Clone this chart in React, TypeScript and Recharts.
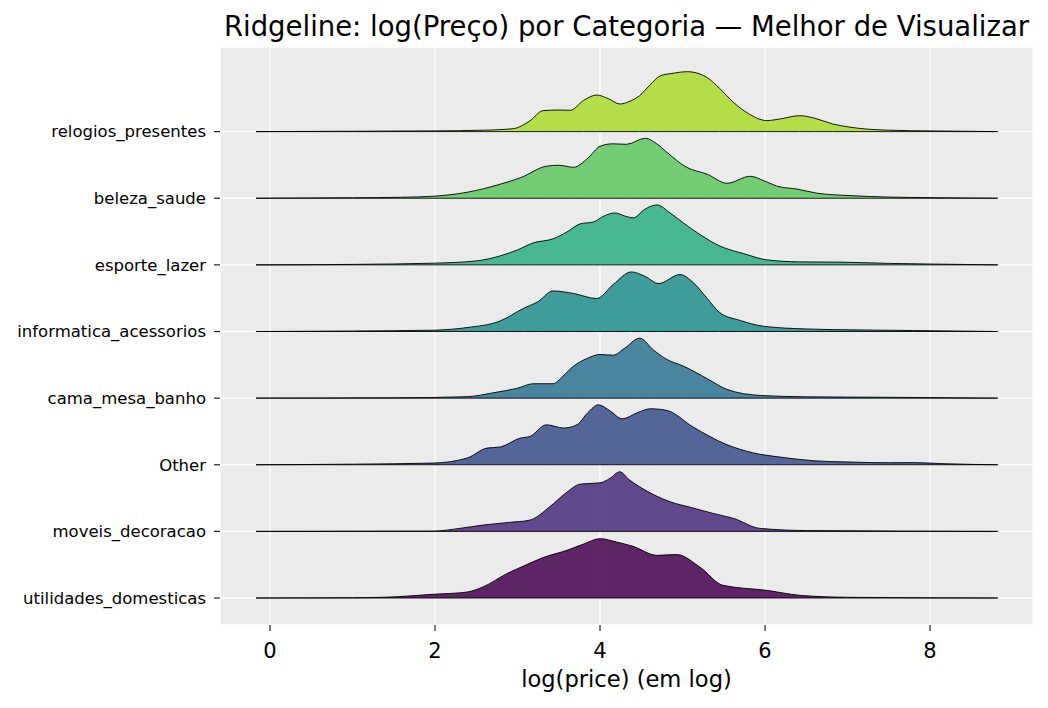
import React from 'react';
import { ComposedChart, Area, XAxis, YAxis, CartesianGrid } from 'recharts';

// Categories from bottom (0) to top (7)
const categories = [
  'utilidades_domesticas',
  'moveis_decoracao',
  'Other',
  'cama_mesa_banho',
  'informatica_acessorios',
  'esporte_lazer',
  'beleza_saude',
  'relogios_presentes',
];

const colors = ['#52115c', '#523a83', '#46598f', '#3c7b97', '#2f9594', '#37b488', '#68ca6a', '#afdc3a'];

const xTicks = [0, 2, 4, 6, 8];
const yTicks = [0, 1, 2, 3, 4, 5, 6, 7];

// [log(price), density]
const utilidades: [number, number][] = [
  [-0.17, 0], [1.0, 0.0025], [1.37, 0.006], [1.98, 0.031], [2.39, 0.05], [2.58, 0.092], [2.87, 0.203],
  [3.1, 0.275], [3.31, 0.337], [3.6, 0.398], [3.8, 0.45], [4.0, 0.495], [4.2, 0.467], [4.4, 0.431],
  [4.69, 0.356], [4.93, 0.362], [5.21, 0.258], [5.49, 0.106], [6.02, 0.064], [6.42, 0.0225], [7.0, 0.006], [8.82, 0],
];

const moveis: [number, number][] = [
  [-0.17, 0], [1.98, 0.0025], [2.3, 0.025], [2.58, 0.0525], [2.9, 0.075], [3.15, 0.094], [3.39, 0.205],
  [3.58, 0.317], [3.76, 0.394], [4.0, 0.405], [4.12, 0.442], [4.24, 0.497], [4.35, 0.433], [4.48, 0.372],
  [4.85, 0.247], [5.1, 0.2], [5.37, 0.15], [5.62, 0.108], [5.94, 0.025], [6.5, 0.007], [8.82, 0],
];

const other: [number, number][] = [
  [-0.17, 0], [1.0, 0.005], [1.98, 0.014], [2.39, 0.056], [2.63, 0.139], [2.79, 0.148], [3.03, 0.222],
  [3.15, 0.236], [3.35, 0.333], [3.56, 0.306], [3.72, 0.333], [3.85, 0.433], [3.98, 0.5], [4.12, 0.45],
  [4.27, 0.383], [4.45, 0.433], [4.61, 0.467], [4.81, 0.453], [5.13, 0.314], [5.54, 0.167], [5.85, 0.1],
  [6.18, 0.064], [6.6, 0.033], [7.03, 0.0225], [7.5, 0.017], [7.8, 0.018], [8.2, 0.008], [8.82, 0],
];

const cama: [number, number][] = [
  [-0.17, 0], [1.5, 0.0025], [2.39, 0.012], [2.71, 0.045], [3.0, 0.083], [3.19, 0.12], [3.43, 0.12],
  [3.55, 0.183], [3.68, 0.267], [3.85, 0.333], [4.0, 0.364], [4.16, 0.358], [4.3, 0.417], [4.48, 0.5],
  [4.65, 0.4], [4.81, 0.323], [5.01, 0.267], [5.3, 0.162], [5.54, 0.0725], [5.94, 0.0225], [6.5, 0.011],
  [7.5, 0.007], [8.82, 0],
];

const informatica: [number, number][] = [
  [-0.17, 0], [1.0, 0.004], [1.98, 0.011], [2.39, 0.033], [2.79, 0.088], [3.07, 0.192], [3.25, 0.25],
  [3.43, 0.338], [3.68, 0.317], [3.96, 0.275], [4.16, 0.392], [4.38, 0.497], [4.55, 0.458], [4.71, 0.4],
  [4.97, 0.475], [5.13, 0.408], [5.3, 0.275], [5.45, 0.158], [5.7, 0.092], [5.98, 0.044], [6.5, 0.021],
  [7.03, 0.014], [7.8, 0.008], [8.82, 0],
];

const esporte: [number, number][] = [
  [-0.17, 0], [1.0, 0.004], [1.98, 0.014], [2.5, 0.033], [2.79, 0.075], [3.0, 0.125], [3.19, 0.183],
  [3.43, 0.217], [3.6, 0.275], [3.76, 0.342], [3.92, 0.358], [4.05, 0.408], [4.18, 0.433], [4.3, 0.408],
  [4.4, 0.392], [4.55, 0.467], [4.69, 0.5], [4.85, 0.433], [5.01, 0.35], [5.2, 0.258], [5.45, 0.158],
  [5.75, 0.092], [6.02, 0.042], [6.42, 0.025], [6.9, 0.023], [7.5, 0.0125], [8.0, 0.007], [8.82, 0],
];

const beleza: [number, number][] = [
  [-0.17, 0], [0.5, 0.0025], [1.0, 0.004], [1.58, 0.008], [1.98, 0.017], [2.39, 0.05], [2.79, 0.117],
  [3.05, 0.175], [3.35, 0.267], [3.5, 0.275], [3.68, 0.258], [3.85, 0.333], [4.0, 0.433], [4.15, 0.454],
  [4.32, 0.45], [4.55, 0.5], [4.68, 0.458], [4.81, 0.383], [5.05, 0.258], [5.3, 0.2], [5.54, 0.125],
  [5.82, 0.183], [6.0, 0.142], [6.15, 0.1], [6.4, 0.075], [6.63, 0.042], [7.03, 0.022], [7.5, 0.01],
  [8.0, 0.005], [8.82, 0],
];

const relogios: [number, number][] = [
  [-0.17, 0], [1.0, 0.003], [2.0, 0.006], [2.6, 0.012], [2.95, 0.025], [3.15, 0.09], [3.31, 0.175],
  [3.5, 0.18], [3.64, 0.178], [3.8, 0.26], [3.96, 0.305], [4.1, 0.275], [4.24, 0.23], [4.35, 0.25],
  [4.48, 0.3], [4.6, 0.385], [4.73, 0.465], [4.9, 0.488], [5.05, 0.5], [5.2, 0.483], [5.3, 0.45],
  [5.45, 0.36], [5.62, 0.242], [5.8, 0.15], [6.02, 0.092], [6.2, 0.108], [6.42, 0.133], [6.6, 0.112],
  [6.82, 0.064], [7.03, 0.037], [7.5, 0.012], [8.0, 0.006], [8.82, 0],
];

const densities = [utilidades, moveis, other, cama, informatica, esporte, beleza, relogios];

// ridge height multiplier (density -> row units)
const SCALE = 1.8;

const FONT = '"DejaVu Sans", sans-serif';

export default function App() {
  const order = [7, 6, 5, 4, 3, 2, 1, 0];
  return (
    <div style={{ position: 'relative', width: 1040, height: 700, fontFamily: FONT }}>
      <svg style={{ position: 'absolute', left: 0, top: 0 }} width={1040} height={40}>
        <text x={618.5} y={28} textAnchor="middle" fontSize={27.5} fontFamily={FONT} fill="#000">
          Ridgeline: log(Preço) por Categoria — Melhor de Visualizar
        </text>
      </svg>
      <ComposedChart width={1040} height={700} margin={{ top: 39, right: 15, bottom: 8, left: 0 }}>
        <CartesianGrid fill="#ebebeb" fillOpacity={1} stroke="#ffffff" strokeWidth={1.3} />
        <XAxis
          type="number"
          dataKey="x"
          domain={[-0.606, 9.248]}
          ticks={xTicks}
          allowDataOverflow
          axisLine={false}
          tickLine={{ stroke: '#222', strokeWidth: 1.2 }}
          tickSize={6}
          tickMargin={12}
          height={75}
          tick={{ fontSize: 21, fill: '#000', fontFamily: FONT }}
          label={{ value: 'log(price) (em log)', position: 'insideBottom', offset: 13, fontSize: 22.6, fill: '#000', fontFamily: FONT }}
        />
        <YAxis
          type="number"
          domain={[-0.405, 8.27]}
          ticks={yTicks}
          allowDataOverflow
          tickFormatter={(v: number) => categories[v]}
          width={212}
          axisLine={false}
          tickLine={{ stroke: '#222', strokeWidth: 1.2 }}
          tickSize={6}
          tickMargin={8}
          tick={{ fontSize: 16.5, fill: '#000', fontFamily: FONT }}
        />
        {order.map((i) => (
          <Area
            key={categories[i]}
            data={densities[i].map(([x, d]) => ({ x, d }))}
            dataKey={(p: { x: number; d: number }) => [i, i + p.d * SCALE]}
            type="monotone"
            fill={colors[i]}
            fillOpacity={0.92}
            stroke="#000"
            strokeWidth={0.9}
            isAnimationActive={false}
            dot={false}
            activeDot={false}
          />
        ))}
      </ComposedChart>
    </div>
  );
}
